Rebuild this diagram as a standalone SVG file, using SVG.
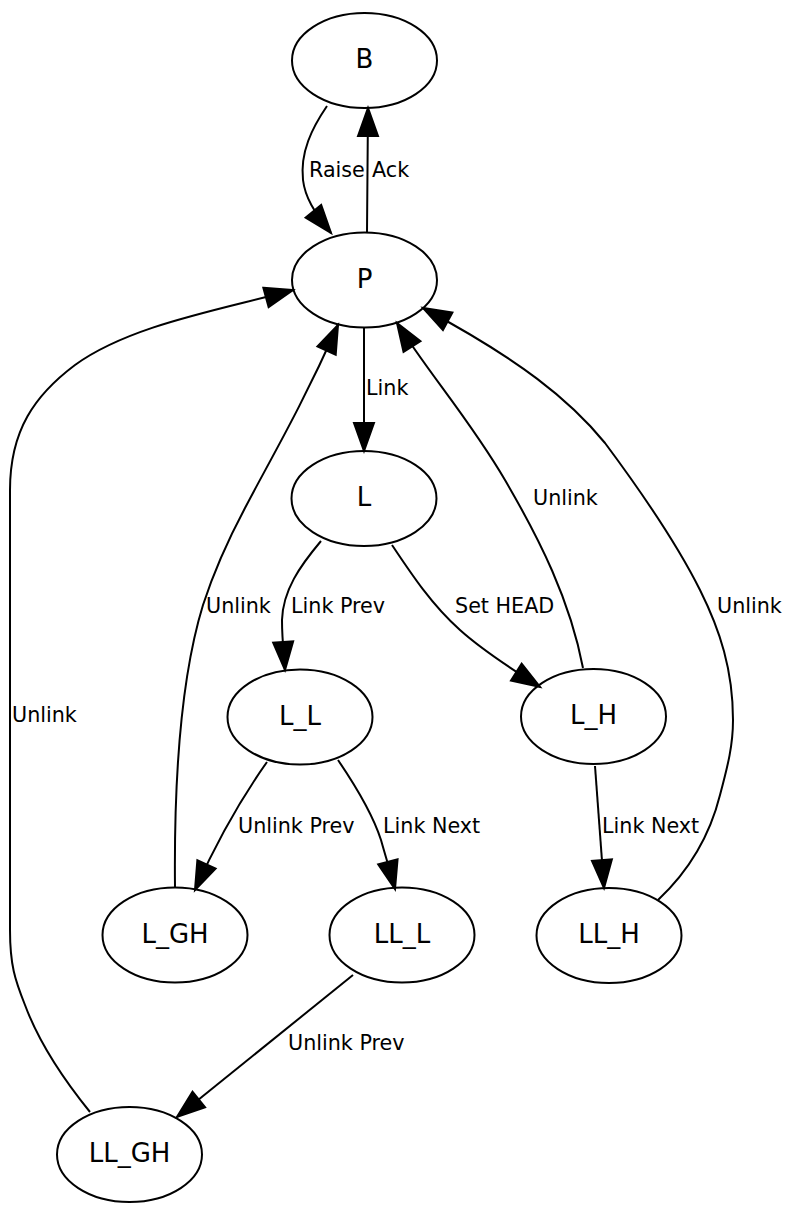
<svg xmlns="http://www.w3.org/2000/svg" width="788" height="1205" viewBox="0 0 788 1205">
<style>
.node ellipse{fill:none;stroke:#000;stroke-width:2}
.node text{font-family:"DejaVu Sans",sans-serif;font-size:26px;text-anchor:middle;fill:#000}
.edges path{fill:none;stroke:#000;stroke-width:2;marker-end:url(#arr)}
.edges text{font-family:"DejaVu Sans",sans-serif;font-size:20.7px;fill:#000}
</style>
<defs>
<marker id="arr" viewBox="0 0 28 20" refX="28" refY="10" markerWidth="28" markerHeight="20" markerUnits="userSpaceOnUse" orient="auto" overflow="visible">
<path d="M0,0 L28,10 L0,20 Z" fill="#000" stroke="#000" stroke-width="2"/>
</marker>
</defs>
<rect width="788" height="1205" fill="#fff"/>
<g id="connectors" class="edges">
<path d="M327,106 C312,128 300,152 303,180 C305,197 314,212 331,233"/>
<text x="309" y="177">Raise</text>
<path d="M367,232 C367,190 368,150 368,108"/>
<text x="372" y="177">Ack</text>
<path d="M364,328 L364,451"/>
<text x="366" y="395">Link</text>
<path d="M321,541 C300,566 283,590 282,620 C282,640 284,655 285,670"/>
<text x="291" y="613">Link Prev</text>
<path d="M392,545 C412,575 432,605 460,630 C480,648 505,665 540,687"/>
<text x="455" y="613">Set HEAD</text>
<path d="M583,668 C570,600 540,540 505,480 C470,420 430,375 397,323"/>
<text x="533" y="505">Unlink</text>
<path d="M658,900 C690,870 710,835 720,795 C728,765 733,745 733,720 C733,670 720,630 700,590 C675,540 640,490 605,443 C570,400 520,360 423,308"/>
<text x="717" y="613">Unlink</text>
<path d="M175,887 C174,790 180,680 203,605 C215,568 228,540 245,508 C270,460 300,410 338,325"/>
<text x="206" y="613">Unlink</text>
<path d="M90,1112 C60,1075 38,1040 25,1005 C15,980 10,965 10,930 L10,490 C10,430 35,395 75,365 C130,325 220,310 293,290"/>
<text x="12" y="722">Unlink</text>
<path d="M267,762 C250,786 222,830 195,890"/>
<text x="238" y="833">Unlink Prev</text>
<path d="M338,760 C355,785 372,812 381,840 C386,858 390,870 395,889"/>
<text x="383" y="833">Link Next</text>
<path d="M595,766 L604,888"/>
<text x="602" y="833">Link Next</text>
<path d="M353,975 L177,1117"/>
<text x="288" y="1050">Unlink Prev</text>
</g>
<g id="B" class="node"><ellipse cx="364.5" cy="60.5" rx="72.5" ry="47.5"/><text x="364.5" y="68">B</text></g>
<g id="P" class="node"><ellipse cx="364.5" cy="280" rx="72.5" ry="47.5"/><text x="364.5" y="287.5">P</text></g>
<g id="L" class="node"><ellipse cx="364" cy="498.5" rx="72.5" ry="47.5"/><text x="364" y="506">L</text></g>
<g id="L_L" class="node"><ellipse cx="300" cy="717" rx="72.5" ry="47.5"/><text x="300" y="724.5">L_L</text></g>
<g id="L_H" class="node"><ellipse cx="593.5" cy="716.5" rx="72.5" ry="47.5"/><text x="593.5" y="724">L_H</text></g>
<g id="L_GH" class="node"><ellipse cx="175" cy="935" rx="72.5" ry="47.5"/><text x="175" y="942.5">L_GH</text></g>
<g id="LL_L" class="node"><ellipse cx="402" cy="935" rx="72.5" ry="47.5"/><text x="402" y="942.5">LL_L</text></g>
<g id="LL_H" class="node"><ellipse cx="609" cy="935.5" rx="72.5" ry="47.5"/><text x="609" y="943">LL_H</text></g>
<g id="LL_GH" class="node"><ellipse cx="129.5" cy="1154.5" rx="72.5" ry="47.5"/><text x="129.5" y="1162">LL_GH</text></g>
</svg>
